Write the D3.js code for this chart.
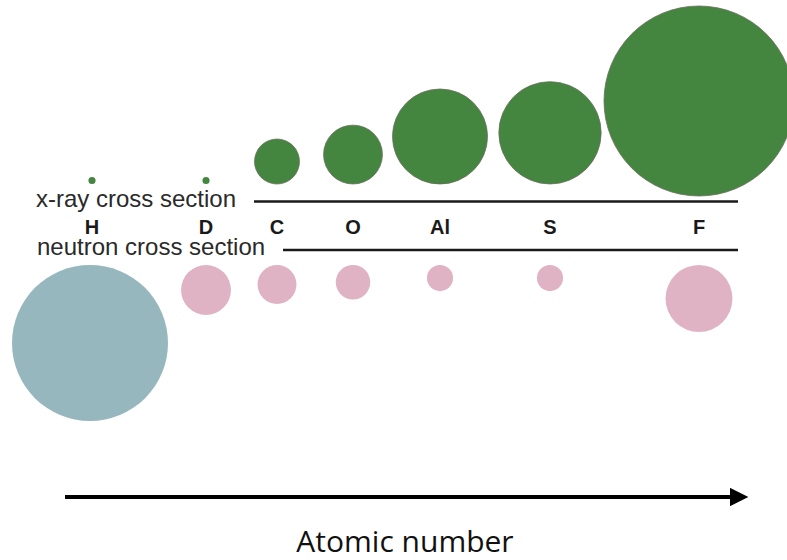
<!DOCTYPE html>
<html>
<head>
<meta charset="utf-8">
<script src="https://cdn.jsdelivr.net/npm/d3@7/dist/d3.min.js"></script>
<style>
  html, body { margin: 0; padding: 0; background: #ffffff; }
  svg { display: block; }
</style>
</head>
<body>
<div id="chart"></div>
<script>
// ---- data ----
const elements = ["H", "D", "C", "O", "Al", "S", "F"];
// schematic position of each element along the atomic-number axis (arbitrary units)
const elementSlots = [0.92, 2.06, 2.77, 3.53, 4.40, 5.50, 6.99];
// x-ray scattering cross section (arbitrary units, proportional to circle area)
const xrayCross = [0.14, 0.14, 5.6, 9.6, 25, 29, 100];
// neutron scattering cross section (barns, proportional to circle area)
const neutronCross = [82, 8.4, 5.1, 4.0, 2.3, 2.3, 15.1];
const neutronHighlight = ["H"]; // drawn in blue-grey
const rowLabels = ["x-ray cross section", "neutron cross section"];
const axisTitle = "Atomic number";

// ---- layout ----
const W = 787, H = 560;
const svg = d3.select("#chart").append("svg").attr("width", W).attr("height", H);

const x = d3.scaleLinear().domain([0, 8]).range([0, 800]);
const rX = d3.scaleSqrt().domain([0, 100]).range([0, 95]);
const rN = d3.scaleSqrt().domain([0, 82]).range([0, 78]);

const green = "#44863f", pink = "#e0b3c4", blue = "#97b7bf";

const xrayBase = 184, xrayTop = 6, neutronTop = 265;

// x-ray circles (bottom aligned on the row, kept inside top edge)
svg.append("g").selectAll("circle")
  .data(elements.map((e, i) => ({ e, i, r: rX(xrayCross[i]) })))
  .join("circle")
  .attr("cx", d => x(elementSlots[d.i]))
  .attr("cy", d => Math.max(xrayBase - d.r, xrayTop + d.r))
  .attr("r", d => d.r)
  .attr("fill", green)
  .attr("stroke", d => d.r > 10 ? "#6a6f5e" : "none")
  .attr("stroke-width", 0.8);

// neutron circles (top aligned)
svg.append("g").selectAll("circle")
  .data(elements.map((e, i) => ({ e, i, r: rN(neutronCross[i]) })))
  .join("circle")
  .attr("cx", d => x(elementSlots[d.i]) - (d.e === "H" ? 2 : 0))
  .attr("cy", d => neutronTop + d.r)
  .attr("r", d => d.r)
  .attr("fill", d => neutronHighlight.includes(d.e) ? blue : pink);

// row divider lines
svg.append("line").attr("x1", 254).attr("x2", 738).attr("y1", 201.5).attr("y2", 201.5)
  .attr("stroke", "#1a1a1a").attr("stroke-width", 2.6);
svg.append("line").attr("x1", 283).attr("x2", 738).attr("y1", 250).attr("y2", 250)
  .attr("stroke", "#1a1a1a").attr("stroke-width", 2.6);

// row labels
svg.append("text").attr("x", 36).attr("y", 206.5).text(rowLabels[0])
  .attr("font-family", "Liberation Sans, Arial, sans-serif").attr("font-size", 24)
  .attr("fill", "#2a2a2a");
svg.append("text").attr("x", 37).attr("y", 254.5).text(rowLabels[1])
  .attr("font-family", "Liberation Sans, Arial, sans-serif").attr("font-size", 24)
  .attr("fill", "#2a2a2a");

// element labels
svg.append("g").selectAll("text")
  .data(elements)
  .join("text")
  .attr("x", (d, i) => x(elementSlots[i]))
  .attr("y", 233.5)
  .attr("text-anchor", "middle")
  .attr("font-family", "Liberation Sans, Arial, sans-serif")
  .attr("font-weight", "bold")
  .attr("font-size", 20)
  .attr("fill", "#1a1a1a")
  .text(d => d);

// atomic number arrow
svg.append("defs").append("marker")
  .attr("id", "arrowhead")
  .attr("viewBox", "0 0 10 10")
  .attr("refX", 0).attr("refY", 5)
  .attr("markerWidth", 5).attr("markerHeight", 4.6)
  .attr("markerUnits", "strokeWidth")
  .attr("orient", "auto")
  .append("path").attr("d", "M0,0 L10,5 L0,10 Z").attr("fill", "#000");
svg.append("line").attr("x1", 65).attr("x2", 730).attr("y1", 497).attr("y2", 497)
  .attr("stroke", "#000").attr("stroke-width", 4)
  .attr("marker-end", "url(#arrowhead)");

svg.append("text").attr("x", 405).attr("y", 552).attr("text-anchor", "middle")
  .attr("font-family", "Open Sans, Lato, sans-serif").attr("font-size", 30)
  .attr("fill", "#111").text(axisTitle);
</script>
</body>
</html>
